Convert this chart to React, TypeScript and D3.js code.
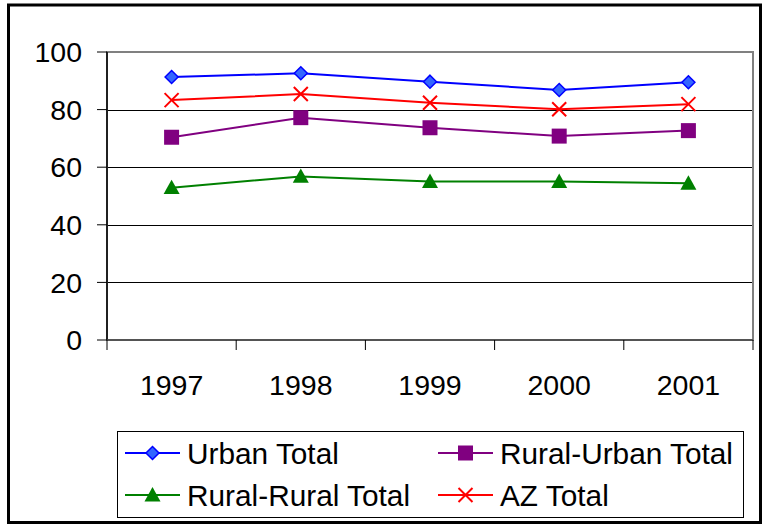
import React from 'react';
import * as d3 from 'd3';

const years = ['1997', '1998', '1999', '2000', '2001'];
const urbanTotal = [91.3, 92.6, 89.7, 86.8, 89.5];
const ruralUrbanTotal = [70.4, 77.2, 73.7, 70.8, 72.7];
const ruralRuralTotal = [52.9, 56.8, 55.0, 55.0, 54.4];
const azTotal = [83.3, 85.4, 82.4, 80.1, 81.9];
const yTicks = [0, 20, 40, 60, 80, 100];

const series = [
  { name: 'Urban Total', values: urbanTotal, color: '#0000FF', marker: 'diamond' },
  { name: 'Rural-Urban Total', values: ruralUrbanTotal, color: '#800080', marker: 'square' },
  { name: 'Rural-Rural Total', values: ruralRuralTotal, color: '#008000', marker: 'triangle' },
  { name: 'AZ Total', values: azTotal, color: '#FF0000', marker: 'x' }
];

const plot = { left: 107, top: 52, right: 753, bottom: 340 };
const font = 'Arial, "Liberation Sans", sans-serif';

function Marker({ type, x, y, color }: { type: string; x: number; y: number; color: string }) {
  if (type === 'diamond') {
    const r = 6.5;
    return <path d={`M${x},${y - r}L${x + r},${y}L${x},${y + r}L${x - r},${y}Z`} fill="#3366FF" stroke={color} strokeWidth={1.5} />;
  }
  if (type === 'square') {
    const r = 7.5;
    return <rect x={x - r} y={y - r} width={2 * r} height={2 * r} fill={color} />;
  }
  if (type === 'triangle') {
    const r = 8;
    return <path d={`M${x},${y - r}L${x + r},${y + r * 0.8}L${x - r},${y + r * 0.8}Z`} fill={color} />;
  }
  const r = 7;
  return (
    <path d={`M${x - r},${y - r}L${x + r},${y + r}M${x + r},${y - r}L${x - r},${y + r}`} stroke={color} strokeWidth={2} fill="none" />
  );
}

export default function App() {
  const x = d3.scaleBand().domain(years).range([plot.left, plot.right]);
  const y = d3.scaleLinear().domain([0, 100]).range([plot.bottom, plot.top]);
  const cx = (d: string) => (x(d) as number) + x.bandwidth() / 2;
  const line = d3.line<number>().x((d, i) => cx(years[i])).y(d => y(d));
  const boundaries = years.map(d => x(d) as number).concat([plot.right]);

  const legendItems = [
    { s: series[0], lx: 125, ly: 453 },
    { s: series[1], lx: 438, ly: 453 },
    { s: series[2], lx: 125, ly: 495 },
    { s: series[3], lx: 438, ly: 495 }
  ];

  return (
    <svg width={765} height={525} style={{ position: 'absolute', left: 0, top: 0, background: '#fff' }} fontFamily={font}>
      <rect x={0} y={0} width={765} height={525} fill="#fff" />
      <rect x={8.5} y={5} width={752} height={517.5} fill="none" stroke="#000" strokeWidth={3} />

      {/* gridlines */}
      {yTicks.filter(t => t > 0 && t < 100).map(t => (
        <line key={t} x1={plot.left} x2={plot.right} y1={Math.round(y(t)) + 0.5} y2={Math.round(y(t)) + 0.5} stroke="#000" strokeWidth={1} />
      ))}
      <rect x={plot.left} y={plot.top} width={plot.right - plot.left} height={plot.bottom - plot.top} fill="none" stroke="#808080" strokeWidth={2} />
      <line x1={plot.left} x2={plot.left} y1={plot.top} y2={plot.bottom} stroke="#000" strokeWidth={1.5} />
      <line x1={plot.left} x2={plot.right} y1={plot.bottom} y2={plot.bottom} stroke="#444" strokeWidth={1.5} />

      {/* y axis */}
      {yTicks.map(t => (
        <g key={t}>
          <line x1={97} x2={plot.left} y1={y(t)} y2={y(t)} stroke="#000" strokeWidth={1} />
          <text x={82} y={y(t)} dy="0.36em" textAnchor="end" fontSize={28.5} fill="#000">{t}</text>
        </g>
      ))}

      {/* x axis */}
      {boundaries.map((b, i) => (
        <line key={i} x1={b} x2={b} y1={plot.bottom} y2={350} stroke="#000" strokeWidth={1} />
      ))}
      {years.map(d => (
        <text key={d} x={cx(d)} y={395} textAnchor="middle" fontSize={28.5} fill="#000">{d}</text>
      ))}

      {/* series */}
      {series.map(s => (
        <g key={s.name}>
          <path d={line(s.values) || ''} fill="none" stroke={s.color} strokeWidth={2} />
          {s.values.map((v, i) => (
            <Marker key={i} type={s.marker} x={cx(years[i])} y={y(v)} color={s.color} />
          ))}
        </g>
      ))}

      {/* legend */}
      <rect x={117.5} y={431.5} width={626} height={86} fill="#fff" stroke="#000" strokeWidth={1} />
      {legendItems.map(({ s, lx, ly }) => (
        <g key={s.name}>
          <line x1={lx} x2={lx + 55} y1={ly} y2={ly} stroke={s.color} strokeWidth={2} />
          <Marker type={s.marker} x={lx + 27.5} y={ly} color={s.color} />
          <text x={lx + 62} y={ly} dy="0.36em" fontSize={29.8} fill="#000">{s.name}</text>
        </g>
      ))}
    </svg>
  );
}
